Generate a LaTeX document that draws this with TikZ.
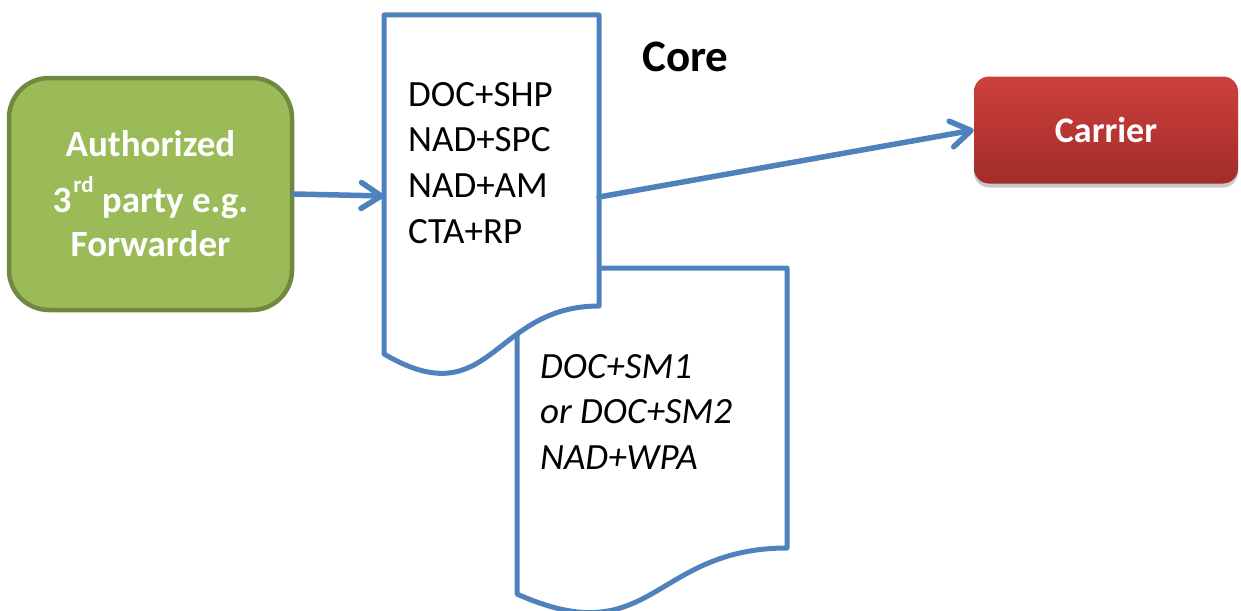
\documentclass[tikz,border=0pt]{standalone}
\usepackage{fontspec}
\setmainfont{Carlito}
\usetikzlibrary{arrows.meta,shadows}
\definecolor{docblue}{HTML}{4F81BD}
\definecolor{grfill}{HTML}{9BBB59}
\definecolor{grline}{HTML}{71893F}
\definecolor{redtop}{HTML}{CD403C}
\definecolor{redbot}{HTML}{A22C29}
\begin{document}
\begin{tikzpicture}[x=1pt,y=-1pt,
  doc/.style={draw=docblue, line width=5pt, fill=white, line join=round},
  conn/.style={draw=docblue, line width=5.5pt, line cap=round,
    -{Straight Barb[length=20pt,width=26pt,line join=round,line cap=round]}},
  authbox/.style={draw=grline, fill=grfill, line width=4.5pt, rounded corners=40pt,
    minimum width=283pt, minimum height=232pt},
  whitetext/.style={text=white, inner sep=0pt, font=\fontsize{37}{44}\selectfont\bfseries},
  carrierbox/.style={rounded corners=15pt, top color=redtop, bottom color=redbot, draw=none,
    minimum width=264pt, minimum height=107pt, text=white,
    font=\fontsize{36}{44}\selectfont\bfseries,
    drop shadow={shadow xshift=0pt, shadow yshift=-4pt, opacity=0.3, fill=black!70}},
  doctext/.style={anchor=north west, inner sep=0pt, align=left, font=\fontsize{37}{45.7}\selectfont},
]
\useasboundingbox (0,0) rectangle (1241,610);

% second document (behind)
\draw[doc] (517,268) -- (787,268) -- (787,548)
  .. controls (652,548) and (652,654.5) .. (517,594) -- cycle;
% first document (front)
\draw[doc] (384,15) -- (599,15) -- (599,306)
  .. controls (491.5,306) and (491.5,417) .. (384,354) -- cycle;

\coordinate (doc1in) at (384,196);
\coordinate (doc1out) at (599,197);

\node[doctext] (doc1txt) at (408,82) {DOC+SHP\\NAD+SPC\\NAD+AM\\CTA+RP};
\node[doctext, font=\fontsize{37}{45.7}\selectfont\itshape] (doc2txt) at (540,354)
  {DOC+SM1\\or DOC+SM2\\NAD+WPA};

\node[anchor=base west, inner sep=0pt, font=\fontsize{45}{54}\selectfont\bfseries] (core) at (642,71) {Core};

\node[authbox] (auth) at (150.5,194) {};
\node[whitetext, align=center] (authtxt) at (auth.center)
  {Authorized\\[12pt]3\kern2pt\raisebox{20pt}{\fontsize{23}{23}\selectfont rd} party e.g.\\Forwarder};

\node[carrierbox] (carrier) at (1106,130) {Carrier};

\draw[conn] (auth.east) -- (doc1in);
\draw[conn] (doc1out) -- (carrier.west);
\end{tikzpicture}
\end{document}
